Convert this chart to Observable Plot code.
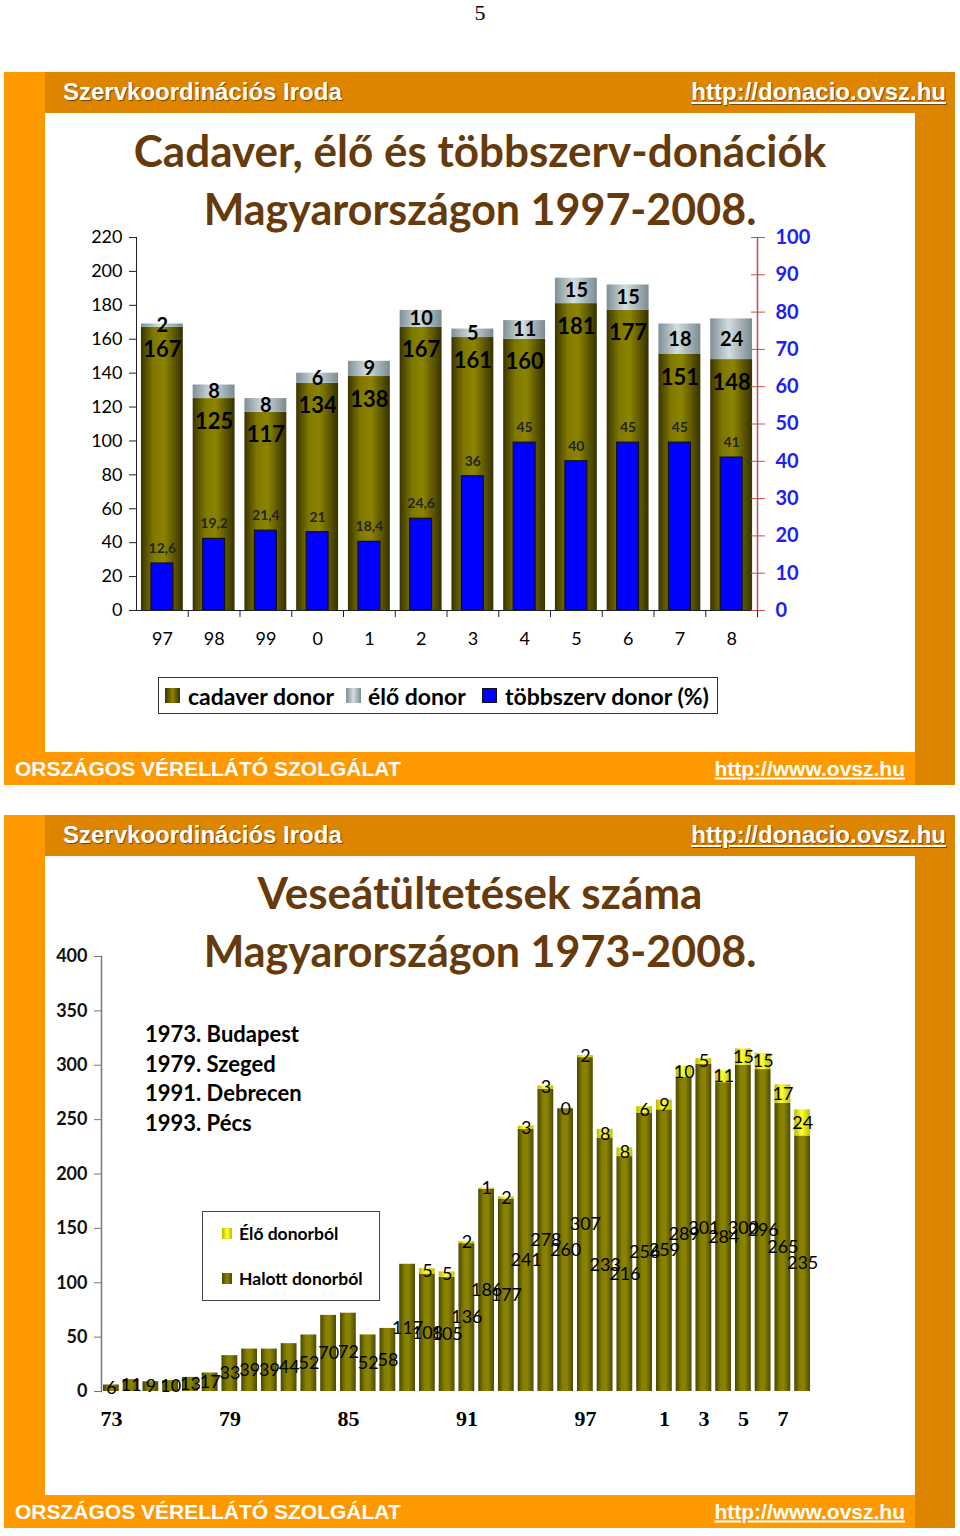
<!DOCTYPE html>
<html>
<head>
<meta charset="utf-8">
<script src="https://cdn.jsdelivr.net/npm/d3@7"></script>
<script src="https://cdn.jsdelivr.net/npm/@observablehq/plot@0.6"></script>
<style>
  html, body { margin: 0; padding: 0; background: #fff; }
  #page { position: relative; width: 960px; height: 1536px; overflow: hidden; background: #fff; }
  .abs { position: absolute; }
  .t { position: absolute; white-space: nowrap; line-height: 1; }
</style>
</head>
<body>
<div id="page"></div>
<script>
// ---------- DATA: chart 1 (1997-2008) ----------
const topYears = ["97","98","99","0","1","2","3","4","5","6","7","8"];
const cadaver = [167,125,117,134,138,167,161,160,181,177,151,148];
const eloTop = [2,8,8,6,9,10,5,11,15,15,18,24];
const tobbszerv = [12.6,19.2,21.4,21,18.4,24.6,36,45,40,45,45,41];
const leftTicksTop = [0,20,40,60,80,100,120,140,160,180,200,220];
const rightTicksTop = [0,10,20,30,40,50,60,70,80,90,100];

// ---------- DATA: chart 2 (1973-2008) ----------
const kidneyYears = [1973,1974,1975,1976,1977,1978,1979,1980,1981,1982,1983,1984,1985,1986,1987,1988,1989,1990,1991,1992,1993,1994,1995,1996,1997,1998,1999,2000,2001,2002,2003,2004,2005,2006,2007,2008];
const halott = [6,11,9,10,13,17,33,39,39,44,52,70,72,52,58,117,108,105,136,186,177,241,278,260,307,233,216,256,259,289,301,284,300,296,265,235];
const eloBottom = [null,null,null,null,null,null,null,null,null,null,null,null,null,null,null,null,5,5,2,1,2,3,3,0,2,8,8,6,9,10,5,11,15,15,17,24];
const yTicksBottom = [0,50,100,150,200,250,300,350,400];
const xTicksBottom = [1973,1979,1985,1991,1997,2001,2003,2005,2007];
const centers = ["1973. Budapest","1979. Szeged","1991. Debrecen","1993. Pécs"];

const page = document.getElementById("page");
const LIGHT = "#ff9900", DARK = "#de8500", BROWN = "#663a0a";
const FONT = "Lato, 'Open Sans', sans-serif";
const SANS = "'Liberation Sans', Arial, sans-serif";

function box(x, y, w, h, css) {
  const d = document.createElement("div");
  d.className = "abs";
  Object.assign(d.style, {left: x + "px", top: y + "px", width: w + "px", height: h + "px"}, css || {});
  page.appendChild(d);
  return d;
}
function txt(str, x, y, o) {
  o = o || {};
  const d = document.createElement("div");
  d.className = "t";
  d.textContent = str;
  const tx = o.anchor === "middle" ? "-50%" : o.anchor === "end" ? "-100%" : "0";
  Object.assign(d.style, {
    left: x + "px", top: y + "px", transform: `translate(${tx},-50%)`,
    fontFamily: o.family || FONT, fontSize: (o.size || 16) + "px",
    fontWeight: o.weight || "normal", color: o.color || "#000",
    textDecoration: o.underline ? "underline" : "none",
    textShadow: o.shadow || "none"
  });
  page.appendChild(d);
  return d;
}

// page number
txt("5", 480, 13, {anchor: "middle", size: 22, family: "'Liberation Serif', serif"});

// slide frames
function slide(y0) {
  box(4, y0, 951, 713, {background: LIGHT});
  box(45, y0, 910, 41, {background: DARK});
  box(915, y0, 40, 713, {background: DARK});
  box(45, y0 + 41, 870, 639, {background: "#fff"});
  const sh = "1px 1px 1px #7a4500";
  txt("Szervkoordinációs Iroda", 63, y0 + 20, {size: 24, weight: "bold", color: "#fff", family: SANS, shadow: sh});
  txt("http://donacio.ovsz.hu", 946, y0 + 20, {anchor: "end", size: 24, weight: "bold", color: "#fff", family: SANS, underline: true, shadow: sh});
  txt("ORSZÁGOS VÉRELLÁTÓ SZOLGÁLAT", 15, y0 + 696, {size: 21, color: "#fff", family: SANS, weight: "bold"});
  txt("http://www.ovsz.hu", 905, y0 + 696, {anchor: "end", size: 21, color: "#fff", family: SANS, weight: "bold", underline: true});
}
slide(72);
slide(815);

// titles
txt("Cadaver, élő és többszerv-donációk", 480, 150, {anchor: "middle", size: 44, weight: "bold", color: BROWN});
txt("Magyarországon 1997-2008.", 480, 208, {anchor: "middle", size: 43, weight: "bold", color: BROWN});
txt("Veseátültetések száma", 480, 892, {anchor: "middle", size: 44, weight: "bold", color: BROWN});
txt("Magyarországon 1973-2008.", 480, 950, {anchor: "middle", size: 43, weight: "bold", color: BROWN});

function addGradients(svg) {
  const defs = d3.select(svg).insert("defs", ":first-child");
  const grads = {
    olive: [["0%", "#3a3500"], ["30%", "#7f7800"], ["55%", "#8c8400"], ["100%", "#363100"]],
    grey: [["0%", "#7f9096"], ["45%", "#d2dde0"], ["100%", "#7a8b90"]],
    olive2: [["0%", "#4a4600"], ["35%", "#858000"], ["60%", "#8a8400"], ["100%", "#4e4a00"]],
    yellow: [["0%", "#b8b800"], ["45%", "#ffff30"], ["100%", "#c0c000"]]
  };
  for (const [id, stops] of Object.entries(grads)) {
    const g = defs.append("linearGradient").attr("id", id).attr("x1", "0").attr("x2", "1").attr("y1", "0").attr("y2", "0");
    for (const [o, c] of stops) g.append("stop").attr("offset", o).attr("stop-color", c);
  }
}

// ---------- Chart 1 ----------
const rowsTop = topYears.map((y, i) => ({year: y, cad: cadaver[i], live: eloTop[i], multi: tobbszerv[i]}));
const pct = 220 / 100; // right axis 100% aligned with left 220
const W1 = 869, H1 = 440;
const chart1 = Plot.plot({
  width: W1, height: H1,
  marginLeft: 90, marginRight: 158, marginTop: 12, marginBottom: 55,
  style: {fontFamily: FONT, fontSize: "18px", background: "transparent", overflow: "visible"},
  x: {type: "band", domain: topYears, paddingInner: 0.19, paddingOuter: 0.095, round: false, label: null},
  y: {domain: [0, 220], label: null},
  marks: [
    Plot.barY(rowsTop, {x: "year", y: "cad", fill: "url(#olive)"}),
    Plot.barY(rowsTop, {x: "year", y1: "cad", y2: d => d.cad + d.live, fill: "url(#grey)"}),
    Plot.barY(rowsTop, {x: "year", y: d => d.multi * pct, fill: "#0000ff", stroke: "#111", strokeWidth: 1.2, insetLeft: 10, insetRight: 10}),
    Plot.ruleY([0], {stroke: "#222", strokeWidth: 1}),
    Plot.frame({anchor: "left", stroke: "#222"}),
    Plot.frame({anchor: "right", stroke: "#c0504d", strokeWidth: 1.5}),
    Plot.axisY({ticks: leftTicksTop, tickSize: 7, tickPadding: 7, fontSize: 18, fill: "#000", stroke: "#222", label: null}),
    Plot.axisY({anchor: "right", ticks: rightTicksTop.map(v => v * pct), tickFormat: d => String(Math.round(d / pct)), tickSize: 7, tickPadding: 11, fontSize: 20, fontWeight: "bold", fill: "#2020f0", stroke: "#c0504d", label: null}),
    Plot.axisY({anchor: "right", ticks: rightTicksTop.map(v => v * pct), tickFormat: () => "", tickSize: 7, dx: -7, stroke: "#c0504d", label: null}),
    Plot.axisX({tickSize: 0, tickPadding: 22, fontSize: 18, fill: "#000", label: null}),
    Plot.axisX({tickSize: 7, tickFormat: () => "", dx: 25.875, stroke: "#222", label: null}),
    Plot.text(rowsTop, {x: "year", y: "cad", text: d => String(d.cad), dy: 23, fontSize: 22, fontWeight: "bold", fill: "#000"}),
    Plot.text(rowsTop, {x: "year", y: d => d.cad + d.live / 2, text: d => String(d.live), fontSize: 20, fontWeight: "bold", fill: "#000"}),
    Plot.text(rowsTop, {x: "year", y: d => d.multi * pct, text: d => String(d.multi).replace(".", ","), dy: -15, fontSize: 14, fontWeight: "bold", fill: "#222"})
  ]
});
addGradients(chart1);
Object.assign(chart1.style, {position: "absolute", left: "46px", top: "225px"});
page.appendChild(chart1);

// Legend 1
box(158, 677, 560, 37, {border: "1.5px solid #333", background: "#fff", boxSizing: "border-box"});
box(165, 688, 15, 15, {background: "linear-gradient(90deg,#3a3500,#8c8400,#363100)"});
txt("cadaver donor", 188, 696, {size: 23, weight: "bold"});
box(346, 688, 15, 15, {background: "linear-gradient(90deg,#7f9096,#d2dde0,#7a8b90)"});
txt("élő donor", 368, 696, {size: 23, weight: "bold"});
box(482, 688, 15, 15, {background: "#0000ff", border: "1px solid #111", boxSizing: "border-box"});
txt("többszerv donor (%)", 505, 696, {size: 23, weight: "bold"});

// ---------- Chart 2 ----------
const rowsBottom = kidneyYears.map((y, i) => ({year: y, h: halott[i], e: eloBottom[i]}));
const W2 = 869, H2 = 500;
const chart2 = Plot.plot({
  width: W2, height: H2,
  marginLeft: 55, marginRight: 103, marginTop: 16, marginBottom: 49,
  style: {fontFamily: FONT, fontSize: "18px", background: "transparent", overflow: "visible"},
  x: {type: "band", domain: kidneyYears, paddingInner: 0.2, paddingOuter: 0.1, round: false, label: null},
  y: {domain: [0, 400], label: null},
  marks: [
    Plot.barY(rowsBottom, {x: "year", y: "h", fill: "url(#olive2)"}),
    Plot.barY(rowsBottom.filter(d => d.e), {x: "year", y1: "h", y2: d => d.h + d.e, fill: "url(#yellow)"}),
    Plot.frame({anchor: "left", stroke: "#777", strokeWidth: 1.5}),
    Plot.axisY({ticks: yTicksBottom, tickSize: 7, tickPadding: 7, fontSize: 18, fontWeight: "bold", fill: "#111", stroke: "#777", label: null}),
    Plot.axisX({ticks: xTicksBottom, tickFormat: d => String(d % 100), tickSize: 0, tickPadding: 19, fontSize: 22, fontWeight: "bold", fontFamily: "'Liberation Serif', serif", fill: "#000", label: null}),
    Plot.text(rowsBottom, {x: "year", y: d => d.h / 2, text: d => String(d.h), fontSize: 18, fill: "#000"}),
    Plot.text(rowsBottom.filter(d => d.e !== null), {x: "year", y: d => d.h + d.e / 2, text: d => String(d.e), fontSize: 18, fill: "#000"})
  ]
});
addGradients(chart2);
Object.assign(chart2.style, {position: "absolute", left: "46px", top: "940px"});
page.appendChild(chart2);

// annotation list
centers.forEach((c, i) => txt(c, 145, 1034 + i * 29.5, {size: 22, weight: "bold"}));

// Legend 2
box(202, 1211, 178, 90, {border: "1.5px solid #444", background: "#fff", boxSizing: "border-box"});
box(222, 1228, 10, 11, {background: "linear-gradient(90deg,#b8b800,#ffff30,#c0c000)"});
txt("Élő donorból", 239, 1234, {size: 17.5, weight: "bold"});
box(222, 1273, 10, 11, {background: "linear-gradient(90deg,#4a4600,#8a8400,#4e4a00)"});
txt("Halott donorból", 239, 1279, {size: 17.5, weight: "bold"});
</script>
</body>
</html>
